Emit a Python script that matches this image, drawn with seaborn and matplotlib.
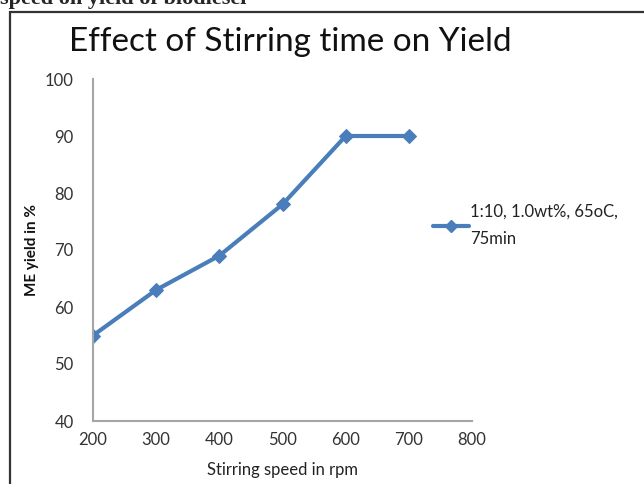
import matplotlib
matplotlib.use("Agg")
import matplotlib.pyplot as plt
import seaborn as sns
import pandas as pd
from matplotlib.patches import Rectangle
from matplotlib.lines import Line2D

speed = [200, 300, 400, 500, 600, 700]
yield_pct = [55, 63, 69, 78, 90, 90]
series_label = "1:10, 1.0wt%, 65oC,\n75min"
x_ticks = [200, 300, 400, 500, 600, 700, 800]
y_ticks = [40, 50, 60, 70, 80, 90, 100]

sns.set_style("white")
plt.rcParams['font.family'] = ['Lato', 'DejaVu Sans']

df = pd.DataFrame({"speed": speed, "yield": yield_pct})

fig = plt.figure(figsize=(6.44, 4.84), dpi=100)
ax = fig.add_axes([93/644, 1-421/484, (472-93)/644, (421-79)/484])

color = "#4A7EBB"
sns.lineplot(data=df, x="speed", y="yield", ax=ax, color=color, lw=3,
             marker="D", markersize=7, markeredgecolor=color, legend=False)

ax.set_xlim(200, 800)
ax.set_ylim(40, 100)
ax.set_xticks(x_ticks)
ax.set_yticks(y_ticks)
ax.tick_params(axis='x', labelsize=12, colors='#333333', length=0, pad=8)
ax.tick_params(axis='y', labelsize=12, colors='#333333', length=0, pad=14)
for s in ['top', 'right']:
    ax.spines[s].set_visible(False)
for s in ['left', 'bottom']:
    ax.spines[s].set_color('#A6A6A6')
    ax.spines[s].set_linewidth(1.5)
ax.set_xlabel("Stirring speed in rpm", fontsize=12, color='#222222', labelpad=10)
ax.set_ylabel("ME yield in %", fontsize=11, color='#111111', labelpad=4, fontweight='bold')

fig.text(290/644, 1-42/484, "Effect of Stirring time on Yield", fontsize=24,
         ha='center', va='center', color='#111111')

handle = Line2D([], [], color=color, lw=3, marker="D", markersize=6)
leg = fig.legend([handle], [series_label], loc='center left',
                 bbox_to_anchor=(426/644, 1-225/484), frameon=False,
                 fontsize=12, handlelength=2.2, handletextpad=0.05,
                 borderaxespad=0)
for t in leg.get_texts():
    t.set_color('#222222')
    t.set_linespacing(1.9)

# outer frame
fig.patches.append(Rectangle((10/644, -0.1), 1.2, (1-12/484)+0.1,
                             transform=fig.transFigure, fill=False,
                             edgecolor='#333333', lw=1.6))

fig.text(0.0, 1.003, "speed on yield of biodiesel", fontsize=16,
         fontweight='bold', family='Liberation Serif', ha='left', va='center')

fig.savefig("out.png", dpi=100)
